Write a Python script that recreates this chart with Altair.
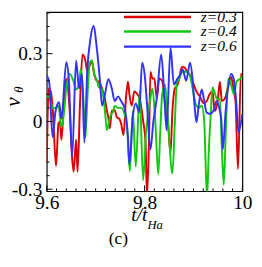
import altair as alt
import pandas as pd

series_names = ["z=0.3", "z=0.4", "z=0.6"]
series_colors = ["#dd0000", "#10c810", "#3232ff"]

t_red = [9.600, 9.604, 9.6085, 9.6125, 9.619, 9.624, 9.627, 9.630, 9.635, 9.640, 9.647, 9.652, 9.655, 9.660, 9.663,
         9.668, 9.673, 9.679, 9.683, 9.688, 9.692, 9.696, 9.701, 9.706, 9.713, 9.719, 9.723, 9.726, 9.729, 9.733,
         9.739, 9.743, 9.749, 9.752, 9.757, 9.762, 9.766, 9.769, 9.774, 9.779, 9.784, 9.790, 9.797, 9.802, 9.805,
         9.809, 9.812, 9.816, 9.820, 9.825, 9.830, 9.836, 9.842, 9.848, 9.853, 9.857, 9.862, 9.867, 9.871, 9.876,
         9.881, 9.887, 9.893, 9.900, 9.906, 9.913, 9.921, 9.927, 9.933, 9.939, 9.941, 9.944, 9.950, 9.954, 9.958,
         9.964, 9.970, 9.977, 9.982, 9.986, 9.991, 9.997, 10.000]
v_red = [-0.18, 0.146, 0.13, 0.047, -0.197, -0.009, 0.0, -0.081, 0.077, 0.189, 0.047, -0.167, -0.223, -0.081, -0.223,
         0.077, 0.296, 0.27, 0.22, 0.249, 0.27, 0.22, 0.184, 0.176, 0.146, 0.10, 0.047, 0.017, -0.03, 0.047,
         0.05, 0.02, 0.01, -0.009, -0.06, 0.103, 0.176, 0.12, 0.07, 0.133, 0.124, 0.10, 0.004, -0.094, -0.33,
         -0.094, 0.219, 0.19, 0.19, 0.103, 0.19, 0.18, 0.077, -0.01, -0.14, 0.047, 0.146, 0.16, 0.19, 0.24,
         0.24, 0.22, 0.206, 0.167, 0.133, 0.111, 0.081, 0.09, 0.12, 0.133, 0.09, 0.047, 0.099, 0.176, 0.09,
         0.10, 0.146, 0.197, 0.14, 0.09, -0.21, 0.21, 0.206]

t_green = [9.600, 9.604, 9.6125, 9.619, 9.624, 9.630, 9.635, 9.640, 9.647, 9.655, 9.660, 9.665, 9.670, 9.675, 9.679,
           9.683, 9.688, 9.692, 9.698, 9.703, 9.706, 9.713, 9.719, 9.723, 9.729, 9.736, 9.739, 9.746, 9.752, 9.759,
           9.764, 9.770, 9.776, 9.782, 9.790, 9.797, 9.803, 9.812, 9.816, 9.822, 9.828, 9.832, 9.836, 9.842, 9.848,
           9.857, 9.862, 9.866, 9.871, 9.878, 9.887, 9.893, 9.898, 9.902, 9.906, 9.911, 9.917, 9.922, 9.926, 9.928,
           9.931, 9.935, 9.939, 9.943, 9.948, 9.954, 9.958, 9.962, 9.966, 9.971, 9.976, 9.983, 9.988, 9.996, 10.000]
v_green = [0.111, 0.11, 0.06, 0.06, 0.069, -0.026, 0.034, 0.146, 0.21, 0.176, 0.141, 0.16, 0.231, 0.10, -0.069,
           0.10, 0.261, 0.27, 0.206, 0.18, 0.154, 0.141, 0.047, -0.039, 0.017, 0.047, 0.069, 0.06, 0.06, 0.034,
           -0.02, -0.22, 0.047, -0.2, 0.133, -0.26, -0.05, 0.103, 0.146, 0.0, -0.233, -0.05, 0.12, 0.163, 0.0,
           -0.23, 0.0, 0.17, 0.19, 0.22, 0.22, 0.20, 0.15, 0.10, 0.07, 0.06, 0.07, 0.0, -0.26, -0.33,
           -0.15, 0.02, 0.15, 0.13, 0.10, 0.10, -0.12, -0.28, -0.05, 0.19, 0.17, 0.12, 0.176, 0.19, 0.2]

t_blue = [9.600, 9.605, 9.612, 9.618, 9.625, 9.630, 9.640, 9.645, 9.652, 9.660, 9.666, 9.672, 9.677, 9.683, 9.689,
          9.696, 9.702, 9.709, 9.713, 9.719, 9.726, 9.733, 9.739, 9.746, 9.752, 9.759, 9.766, 9.769, 9.776, 9.782,
          9.789, 9.795, 9.801, 9.805, 9.812, 9.818, 9.825, 9.834, 9.840, 9.845, 9.853, 9.860, 9.867, 9.871, 9.878,
          9.885, 9.893, 9.898, 9.902, 9.906, 9.911, 9.917, 9.922, 9.927, 9.934, 9.941, 9.947, 9.954, 9.957, 9.960,
          9.966, 9.977, 9.982, 9.987, 9.992, 10.000]
v_blue = [0.203, 0.174, -0.069, 0.046, 0.085, 0.013, 0.262, 0.19, -0.154, 0.27, 0.146, 0.21, -0.094, 0.231, 0.36,
          0.424, 0.331, 0.176, 0.07, 0.12, 0.187, 0.146, 0.09, 0.111, 0.09, 0.06, -0.069, -0.189, 0.02, 0.08,
          0.04, 0.26, 0.19, 0.077, -0.124, 0.0, 0.103, 0.296, 0.133, -0.039, 0.326, 0.163, 0.189, 0.2, 0.23,
          0.18, 0.26, 0.19, 0.077, -0.004, 0.077, 0.141, 0.09, 0.039, 0.034, 0.047, 0.09, 0.047, 0.004, -0.124,
          0.05, 0.21, 0.19, 0.1, -0.047, 0.034]

x_major_ticks = [9.6, 9.8, 10.0]
x_minor_ticks = [9.62, 9.64, 9.66, 9.68, 9.70, 9.72, 9.74, 9.76, 9.78,
                 9.82, 9.84, 9.86, 9.88, 9.90, 9.92, 9.94, 9.96, 9.98]
y_major_ticks = [-0.3, 0.0, 0.3]
y_minor_ticks = [-0.24, -0.18, -0.12, -0.06, 0.06, 0.12, 0.18, 0.24, 0.36, 0.42, 0.48]

legend_y = [0.462, 0.398, 0.331]
legend_x1, legend_x2, legend_xt = 9.758, 9.895, 9.915

rows = []
for name, ts, vs in zip(series_names, [t_red, t_green, t_blue], [v_red, v_green, v_blue]):
    for t, v in zip(ts, vs):
        rows.append({"series": name, "t": t, "v": v})
df = pd.DataFrame(rows)

W, H = 202, 185
SERIF = "Liberation Serif, Times New Roman, DejaVu Serif, serif"
xs = alt.Scale(domain=[9.6, 10.0], nice=False, zero=False)
ys = alt.Scale(domain=[-0.309, 0.484], nice=False, zero=False)
xaxis = alt.Axis(values=x_major_ticks, title=None, ticks=False, domain=False, grid=False,
                 labelFont=SERIF, labelFontSize=20, labelPadding=2, labelColor="black",
                 labelFlush=False,
                 labelExpr="datum.value == 10 ? '10' : format(datum.value, '.1f')")
yaxis = alt.Axis(values=y_major_ticks, title=None, ticks=False, domain=False, grid=False,
                 labelFont=SERIF, labelFontSize=20, labelPadding=5, labelColor="black",
                 labelExpr="datum.value == 0 ? '0' : (datum.value < 0 ? '-' : '') + format(abs(datum.value), '.1f')")
color = alt.Color("series:N", scale=alt.Scale(domain=series_names, range=series_colors), legend=None)

lines = alt.Chart(df).mark_line(strokeWidth=2, interpolate="monotone", clip=True).encode(
    x=alt.X("t:Q", scale=xs, axis=xaxis),
    y=alt.Y("v:Q", scale=ys, axis=yaxis),
    color=color,
)

def xticks(vals, length):
    return alt.Chart(pd.DataFrame({"t": vals})).mark_rule(color="black", strokeWidth=1).encode(
        x=alt.X("t:Q", scale=xs, axis=xaxis), y=alt.value(H), y2=alt.value(H - length))

def yticks(vals, length):
    return alt.Chart(pd.DataFrame({"v": vals})).mark_rule(color="black", strokeWidth=1).encode(
        y=alt.Y("v:Q", scale=ys, axis=yaxis), x=alt.value(0), x2=alt.value(length))

leg_df = pd.DataFrame({"series": series_names, "y": legend_y,
                       "x1": [legend_x1] * 3, "x2": [legend_x2] * 3, "xt": [legend_xt] * 3})
leg_lines = alt.Chart(leg_df).mark_rule(strokeWidth=2.5).encode(
    x=alt.X("x1:Q", scale=xs, axis=xaxis), x2="x2:Q",
    y=alt.Y("y:Q", scale=ys, axis=yaxis), color=color)
leg_text = alt.Chart(leg_df).mark_text(align="left", baseline="middle", font=SERIF, fontStyle="italic",
                                       fontSize=16, color="black").encode(
    x=alt.X("xt:Q", scale=xs, axis=xaxis), y=alt.Y("y:Q", scale=ys, axis=yaxis), text="series:N")

one = pd.DataFrame({"a": [0]})
def label(text, x, y, size, style="italic", align="center", baseline="middle", angle=0):
    return alt.Chart(one).mark_text(text=text, font=SERIF, fontStyle=style, fontSize=size, color="black",
                                    align=align, baseline=baseline, angle=angle).encode(
        x=alt.value(x), y=alt.value(y))

chart = alt.layer(
    lines,
    xticks(x_minor_ticks, 3), xticks(x_major_ticks, 6),
    yticks(y_minor_ticks, 3), yticks(y_major_ticks, 6),
    leg_lines, leg_text,
    label("t/t", 104, 216, 20, align="right", baseline="alphabetic"),
    label("Ha", 104, 224, 13, align="left", baseline="alphabetic"),
    label("v", -35, 93, 22, angle=270),
    label("θ", -29, 80, 13, angle=270),
    label("(c)", 74, 234, 18, style="normal"),
).properties(
    width=W, height=H,
    padding={"left": 40, "top": 0, "right": 12, "bottom": 74},
    autosize=alt.AutoSizeParams(type="none"),
).configure_view(stroke="black", strokeWidth=1.2)

chart.save("out.html", embed_options={"renderer": "svg", "actions": False})
